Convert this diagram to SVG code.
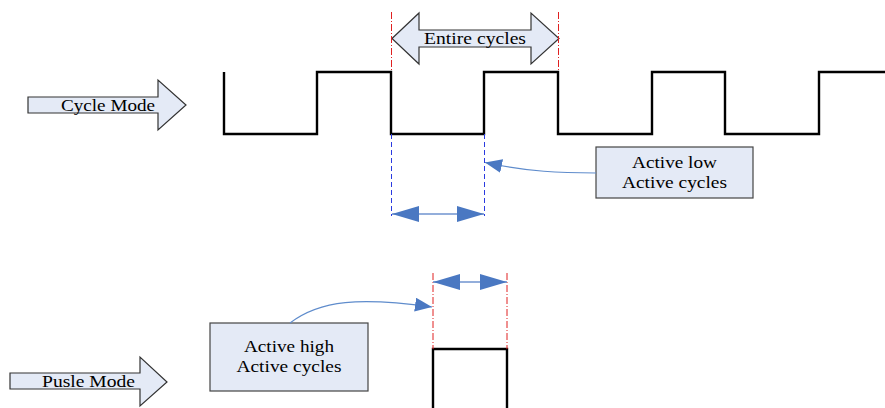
<svg xmlns="http://www.w3.org/2000/svg" width="885" height="408" viewBox="0 0 885 408">
<defs>
<style>
.t{font-family:"Liberation Serif","Times New Roman",serif;font-size:17px;fill:#000;text-anchor:middle}
.big{fill:#e4eaf6;stroke:#333;stroke-width:1.2}
.box{fill:#e4eaf6;stroke:#444;stroke-width:1.2}
.wave{fill:none;stroke:#000;stroke-width:2.4}
.red{stroke:#e02020;stroke-width:1;stroke-dasharray:7,2,1,2;fill:none}
.blue{stroke:#2a3ae0;stroke-width:1;stroke-dasharray:5,3;fill:none}
.dim{stroke:#6f93cf;stroke-width:1.5;fill:none}
.con{stroke:#5f8ccc;stroke-width:1.1;fill:none}
</style>
<marker id="dh" markerUnits="userSpaceOnUse" markerWidth="28" markerHeight="17" refX="27" refY="8" orient="auto-start-reverse">
<path d="M0,0 L27,8 L0,16 z" fill="#4a78c2"/>
</marker>
<marker id="ch" markerUnits="userSpaceOnUse" markerWidth="18" markerHeight="15" refX="17" refY="7" orient="auto">
<path d="M0,0 L17,7 L0,14 z" fill="#4a78c2"/>
</marker>
</defs>

<g id="cycle-mode">
<polygon class="big" points="28,97 158,97 158,80 186,105 158,130 158,113 28,113"/>
<text class="t" x="108" y="111" textLength="94" lengthAdjust="spacingAndGlyphs">Cycle Mode</text>
</g>

<g id="pulse-mode">
<polygon class="big" points="10,373 140,373 140,357 167,382 140,406 140,389 10,389"/>
<text class="t" x="88.5" y="387" textLength="93" lengthAdjust="spacingAndGlyphs">Pusle Mode</text>
</g>

<g id="entire-cycles">
<polygon class="big" points="392,38.5 419,13 419,30 531,30 531,13 559,38.5 531,64 531,47 419,47 419,64"/>
<text class="t" x="475" y="44" textLength="102" lengthAdjust="spacingAndGlyphs">Entire cycles</text>
</g>

<g id="cycle-wave">
<path class="wave" d="M224,72 V134 H317 V72 H391 V134 H484 V72 H558 V134 H652 V72 H725 V134 H819 V72 H885"/>
</g>

<g id="pulse-wave">
<path class="wave" d="M433,410 V349 H507 V410"/>
</g>

<g id="active-low">
<rect class="box" x="596" y="147" width="157" height="51"/>
<text class="t" x="674.5" y="168" textLength="85" lengthAdjust="spacingAndGlyphs">Active low</text>
<text class="t" x="674.5" y="188" textLength="105" lengthAdjust="spacingAndGlyphs">Active cycles</text>
</g>

<g id="active-high">
<rect class="box" x="210" y="323" width="158" height="68"/>
<text class="t" x="289" y="352" textLength="90" lengthAdjust="spacingAndGlyphs">Active high</text>
<text class="t" x="289" y="372" textLength="105" lengthAdjust="spacingAndGlyphs">Active cycles</text>
</g>

<g id="connectors">
<line class="red" x1="391.5" y1="12" x2="391.5" y2="72"/>
<line class="red" x1="558.5" y1="12" x2="558.5" y2="72"/>
<line class="blue" x1="391.5" y1="134" x2="391.5" y2="216"/>
<line class="blue" x1="484.5" y1="134" x2="484.5" y2="216"/>
<line class="red" x1="433" y1="273" x2="433" y2="349"/>
<line class="red" x1="507" y1="273" x2="507" y2="349"/>
<line class="dim" x1="392" y1="214" x2="484" y2="214" marker-start="url(#dh)" marker-end="url(#dh)"/>
<line class="dim" x1="433" y1="282" x2="507" y2="282" marker-start="url(#dh)" marker-end="url(#dh)"/>
<path class="con" d="M596,173 C560,173 530,172 485,162.5" marker-end="url(#ch)"/>
<path class="con" d="M290,323 C320,300 360,297 432,307" marker-end="url(#ch)"/>
</g>
</svg>
